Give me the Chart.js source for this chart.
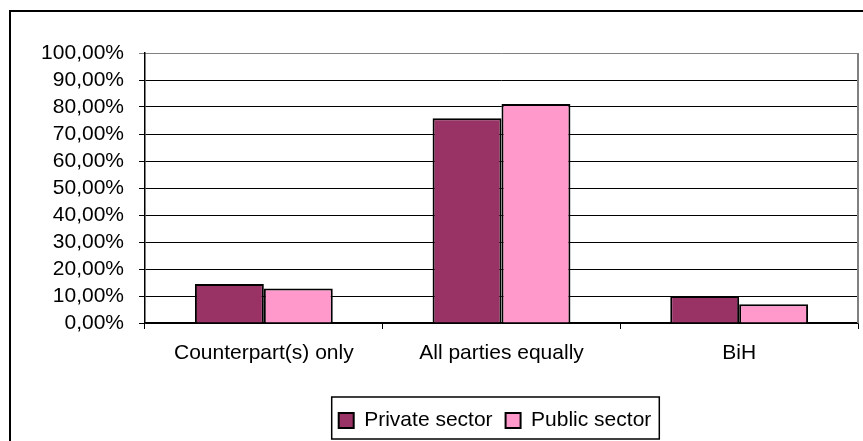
<!DOCTYPE html>
<html>
<head>
<meta charset="utf-8">
<script src="https://cdn.jsdelivr.net/npm/chart.js@4/dist/chart.umd.min.js"></script>
<style>
  body { margin: 0; background: #fff; }
  #wrap { width: 863px; height: 441px; }
</style>
</head>
<body>
<div id="wrap"><canvas id="chart"></canvas></div>
<script>
// data
const categories = ['Counterpart(s) only', 'All parties equally', 'BiH'];
const privateSector = [0.144, 0.758, 0.100];
const publicSector = [0.128, 0.811, 0.069];

const FONT = 'Liberation Sans, Arial, sans-serif';
const LEGEND_SHIFT = 66; // legend sits right of centre in the original

function pct(v) {
  return (Math.round(v * 10000) / 100).toFixed(2).replace('.', ',') + '%';
}

// outer frame, plot right border, box around the legend
const framePlugin = {
  id: 'frame',
  afterLayout(chart) {
    const lg = chart.legend;
    lg.left += LEGEND_SHIFT;
    lg.right += LEGEND_SHIFT;
    if (lg.adjustHitBoxes) lg.adjustHitBoxes();
  },
  beforeDatasetsDraw(chart) {
    const { ctx, chartArea: a } = chart;
    ctx.save();
    ctx.strokeStyle = '#808080';
    ctx.lineWidth = 2;
    ctx.beginPath();
    ctx.moveTo(a.right, a.top);
    ctx.lineTo(a.right, a.bottom);
    ctx.stroke();
    ctx.restore();
  },
  afterDraw(chart) {
    const { ctx } = chart;
    ctx.save();
    ctx.strokeStyle = '#000';
    ctx.lineWidth = 2;
    ctx.beginPath();
    ctx.moveTo(10, 441);
    ctx.lineTo(10, 11);
    ctx.lineTo(863, 11);
    ctx.stroke();

    const boxes = chart.legend.legendHitBoxes;
    if (boxes.length) {
      const left = Math.min(...boxes.map(b => b.left)) - 7;
      const right = Math.max(...boxes.map(b => b.left + b.width)) + 8;
      ctx.lineWidth = 1.5;
      ctx.strokeRect(left, 397, right - left, 42);
    }
    ctx.restore();
  }
};

new Chart(document.getElementById('chart'), {
  type: 'bar',
  data: {
    labels: categories,
    datasets: [
      {
        label: 'Private sector',
        data: privateSector,
        backgroundColor: '#993366',
        borderColor: '#000',
        borderWidth: 2,
        categoryPercentage: 0.58,
        barPercentage: 1
      },
      {
        label: 'Public sector',
        data: publicSector,
        backgroundColor: '#FF99CC',
        borderColor: '#000',
        borderWidth: 2,
        categoryPercentage: 0.58,
        barPercentage: 1
      }
    ]
  },
  options: {
    responsive: true,
    maintainAspectRatio: false,
    animation: false,
    layout: { padding: { left: 0, top: 53, right: 5, bottom: 0 } },
    plugins: {
      tooltip: { enabled: false },
      legend: {
        position: 'bottom',
        labels: {
          font: { family: FONT, size: 21 },
          color: '#000',
          boxWidth: 15,
          boxHeight: 15,
          padding: 13
        }
      }
    },
    scales: {
      x: {
        afterFit: (s) => { s.height = 74; },
        grid: {
          offset: true,
          drawOnChartArea: false,
          drawTicks: true,
          tickLength: 6,
          color: '#000'
        },
        border: { color: '#000', width: 1.5 },
        ticks: {
          font: { family: FONT, size: 21 },
          color: '#000',
          padding: 12,
          maxRotation: 0
        }
      },
      y: {
        min: 0,
        max: 1,
        afterFit: (s) => { s.width = 145; },
        grid: {
          color: (c) => (c.tick && c.tick.value === 1 ? '#808080' : '#000'),
          lineWidth: 1,
          tickLength: 6
        },
        border: { color: '#000', width: 1.5 },
        ticks: {
          stepSize: 0.1,
          autoSkip: false,
          font: { family: FONT, size: 21 },
          color: '#000',
          padding: 15,
          callback: (v) => pct(v)
        }
      }
    }
  },
  plugins: [framePlugin]
});
</script>
</body>
</html>
